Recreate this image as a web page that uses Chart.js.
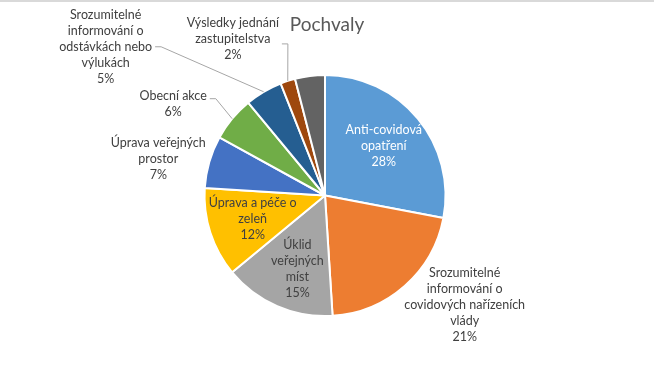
<!DOCTYPE html>
<html>
<head>
<meta charset="utf-8">
<script src="https://cdn.jsdelivr.net/npm/chart.js@4"></script>
<style>
  html, body { margin: 0; padding: 0; background: #fff; }
  #wrap { position: relative; width: 654px; height: 370px; }
  #topline { position: absolute; left: 0; top: 0; width: 654px; height: 2px; background: #d9d9d9; }
</style>
</head>
<body>
<div id="wrap">
  <canvas id="pie" width="654" height="370"></canvas>
  <div id="topline"></div>
</div>
<script>
const title = "Pochvaly";

const categories = [
  ["Anti-covidová", "opatření"],
  ["Srozumitelné", "informování o", "covidových nařízeních", "vlády"],
  ["Úklid", "veřejných", "míst"],
  ["Úprava a péče o", "zeleň"],
  ["Úprava veřejných", "prostor"],
  ["Obecní akce"],
  ["Srozumitelné", "informování o", "odstávkách nebo", "výlukách"],
  ["Výsledky jednání", "zastupitelstva"],
  []
];
const percents = [28, 21, 15, 12, 7, 6, 5, 2, 4];

const colors = ["#5B9BD5", "#ED7D31", "#A5A5A5", "#FFC000", "#4472C4", "#70AD47", "#255E91", "#9E480E", "#636363"];

// label placement: r = fraction of radius along mid angle, dx/dy nudge, leader = draw line to slice edge
const placement = [
  { r: 0.59, dx: 4, dy: -4, color: "#ffffff" },
  { r: 1.0, dx: 60, dy: 19 },
  { r: 0.66, dx: 4, dy: 0 },
  { r: 0.64, dx: 1, dy: 0 },
  { r: 1.0, dx: -51, dy: -3 },
  { r: 1.0, dx: -59, dy: -15, leader: true, ay: -5 },
  { r: 1.0, dx: -158, dy: -45, leader: true, ay: 0 },
  { r: 1.0, dx: -55, dy: -42, leader: true, ay: 5 },
  null
];

const FONT = "Lato, 'Open Sans', sans-serif";
const LINE_H = 16;

const labelPlugin = {
  id: "sliceLabels",
  afterDatasetsDraw(chart) {
    const ctx = chart.ctx;
    const meta = chart.getDatasetMeta(0);
    ctx.save();
    ctx.font = "12.5px " + FONT;
    ctx.textAlign = "center";
    ctx.textBaseline = "middle";
    meta.data.forEach((arc, i) => {
      const p = placement[i];
      if (!p) return;
      const { x, y, startAngle, endAngle, outerRadius } = arc.getProps(["x", "y", "startAngle", "endAngle", "outerRadius"], true);
      const mid = (startAngle + endAngle) / 2;
      const ex = x + Math.cos(mid) * outerRadius;
      const ey = y + Math.sin(mid) * outerRadius;
      const lx = x + Math.cos(mid) * outerRadius * p.r + p.dx;
      const ly = y + Math.sin(mid) * outerRadius * p.r + p.dy;
      const lines = categories[i].concat([percents[i] + "%"]);
      const top = ly - (lines.length - 1) * LINE_H / 2;
      if (p.leader) {
        const w = Math.max(...lines.map(t => ctx.measureText(t).width));
        const sx = lx + w / 2 + 3;
        const sy = ly + p.ay;
        ctx.strokeStyle = "#A6A6A6";
        ctx.lineWidth = 1;
        ctx.beginPath();
        ctx.moveTo(sx, sy);
        ctx.lineTo(sx + 6, sy);
        ctx.lineTo(ex, ey);
        ctx.stroke();
      }
      ctx.fillStyle = p.color || "#404040";
      lines.forEach((t, k) => ctx.fillText(t, lx, top + k * LINE_H));
    });
    // title
    ctx.font = "19px " + FONT;
    ctx.fillStyle = "#595959";
    ctx.fillText(title, 327, 25);
    ctx.restore();
  }
};

new Chart(document.getElementById("pie"), {
  type: "pie",
  data: {
    labels: categories.map(c => c.join(" ")),
    datasets: [{
      data: percents,
      backgroundColor: colors,
      borderColor: "#ffffff",
      borderWidth: 2,
      hoverOffset: 0,
      offset: 0
    }]
  },
  options: {
    responsive: false,
    animation: false,
    layout: { padding: { top: 74, bottom: 53, left: 203, right: 207 } },
    plugins: { legend: { display: false }, tooltip: { enabled: false }, title: { display: false } }
  },
  plugins: [labelPlugin]
});
</script>
</body>
</html>
